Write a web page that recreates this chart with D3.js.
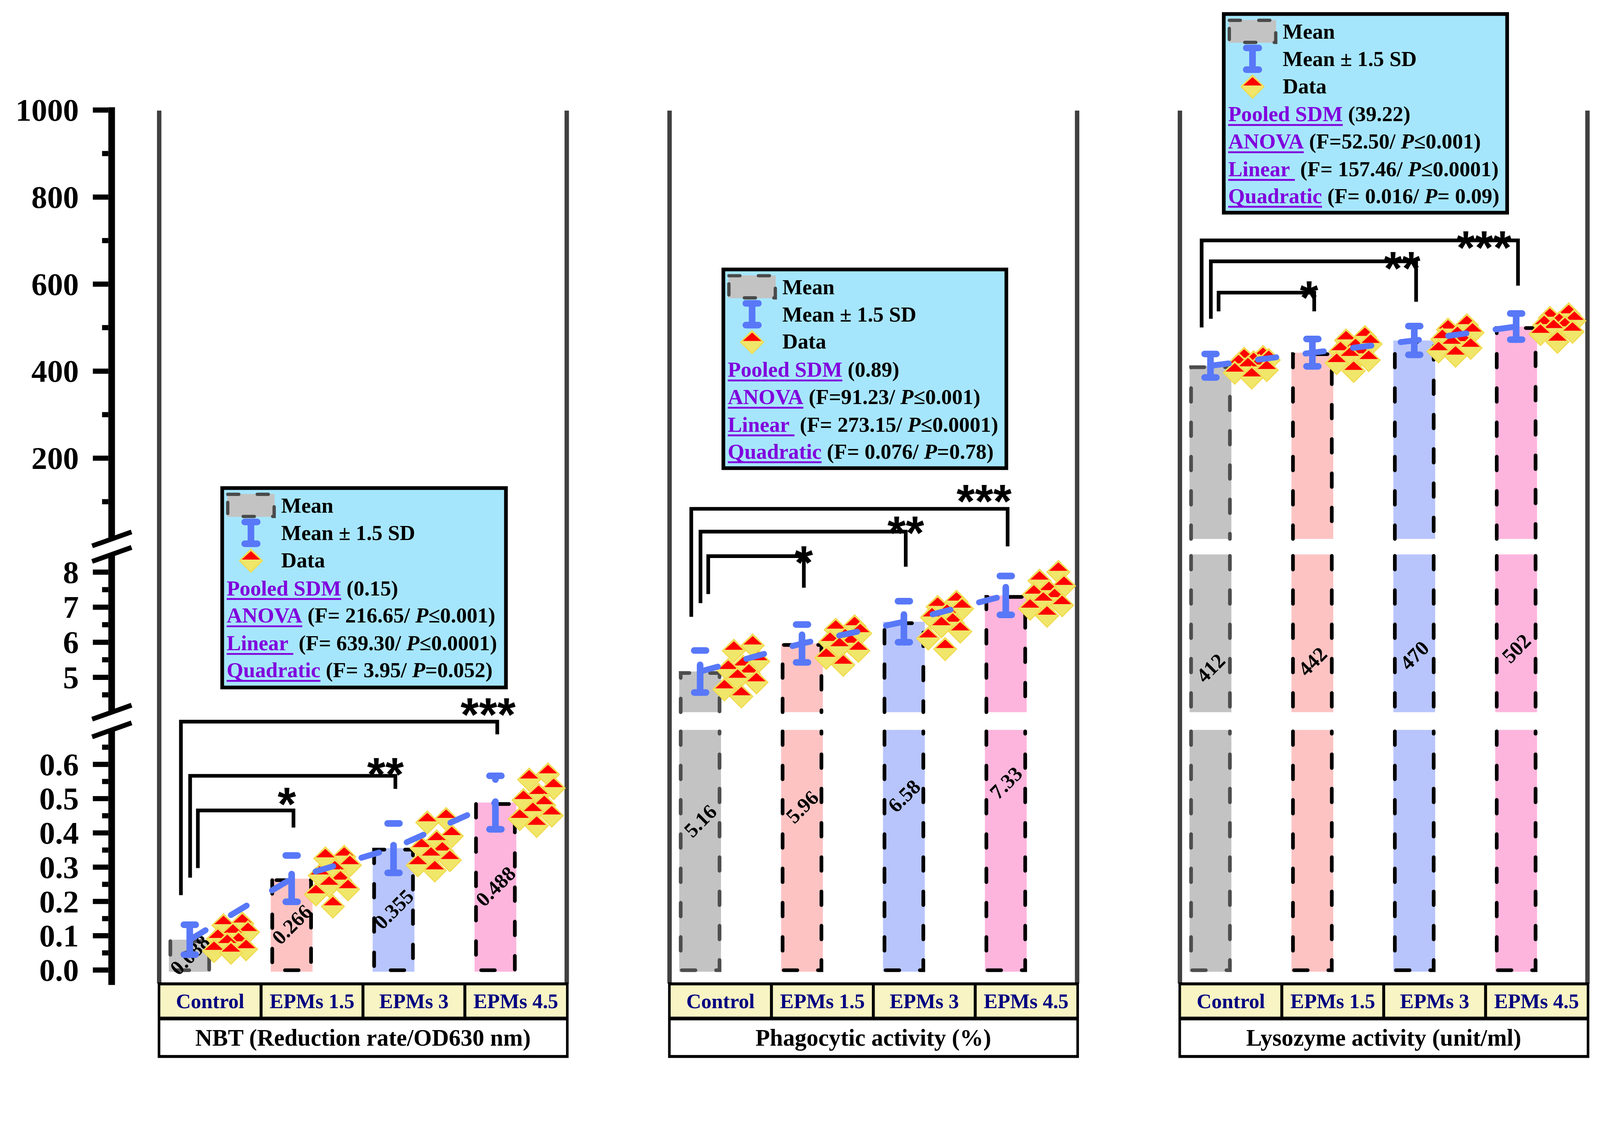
<!DOCTYPE html>
<html><head><meta charset="utf-8">
<script src="https://cdn.jsdelivr.net/npm/d3@7"></script>
<style>html,body{margin:0;padding:0;background:#fff;overflow:hidden;width:100%;height:100%} svg{display:block;width:100vw;height:100vh}</style>
</head><body>
<svg id="chart" viewBox="0 0 4342 2902" preserveAspectRatio="xMidYMin meet" xmlns="http://www.w3.org/2000/svg"></svg>
<script>
// ---------------- DATA ----------------
const categories = ["Control", "EPMs 1.5", "EPMs 3", "EPMs 4.5"];

// Y-axis ticks (three broken segments)
const lowerTicks = [0, 0.1, 0.2, 0.3, 0.4, 0.5, 0.6];
const lowerMinor = [0.05, 0.15, 0.25, 0.35, 0.45, 0.55, 0.65];
const middleTicks = [5, 6, 7, 8];
const middleMinor = [4.5, 5.5, 6.5, 7.5];
const upperTicks = [200, 400, 600, 800, 1000];
const upperMinor = [100, 300, 500, 700, 900];

// NBT
const nbtMeans = [0.088, 0.266, 0.355, 0.488];
const nbtSD = [0.029, 0.045, 0.048, 0.052];
const nbtData = [
  [0.135, 0.13, 0.11, 0.105, 0.09, 0.08, 0.075, 0.06, 0.055, 0.05],
  [0.33, 0.325, 0.305, 0.29, 0.275, 0.26, 0.245, 0.235, 0.22, 0.185],
  [0.44, 0.43, 0.39, 0.375, 0.355, 0.345, 0.33, 0.32, 0.305, 0.29],
  [0.57, 0.555, 0.53, 0.51, 0.495, 0.48, 0.46, 0.45, 0.44, 0.42]
];
// Phagocytic activity
const phagoMeans = [5.16, 5.96, 6.58, 7.33];
const phagoSD = [0.40, 0.36, 0.39, 0.37];
const phagoData = [
  [5.9, 5.75, 5.45, 5.3, 5.2, 5.1, 4.95, 4.85, 4.65, 4.45],
  [6.45, 6.35, 6.25, 6.1, 6.0, 5.95, 5.85, 5.75, 5.55, 5.35],
  [7.15, 7.0, 6.95, 6.8, 6.7, 6.55, 6.45, 6.3, 6.1, 5.8],
  [8.0, 7.75, 7.6, 7.45, 7.35, 7.25, 7.15, 7.05, 6.95, 6.75]
];
// Lysozyme activity
const lysoMeans = [412, 442, 470, 502];
const lysoSD = [18, 21, 22, 20];
const lysoData = [
  [432, 428, 425, 420, 415, 412, 408, 402, 396, 385],
  [478, 470, 462, 452, 445, 438, 432, 425, 418, 400],
  [505, 495, 488, 480, 473, 466, 460, 453, 445, 435],
  [530, 522, 515, 510, 505, 500, 496, 490, 485, 467]
];

// significance brackets (values in each panel's own units)
const nbtBrackets = [
  {to: 1, yL: 0.297, yTop: 0.465, yR: 0.415, label: "*"},
  {to: 2, yL: 0.269, yTop: 0.566, yR: 0.528, label: "**"},
  {to: 3, yL: 0.218, yTop: 0.724, yR: 0.687, label: "***"}
];
const phagoBrackets = [
  {to: 1, yL: 7.37, yTop: 8.45, yR: 7.55, label: "*"},
  {to: 2, yL: 7.11, yTop: 9.15, yR: 8.15, label: "**"},
  {to: 3, yL: 6.72, yTop: 9.8, yR: 8.73, label: "***"}
];
const lysoBrackets = [
  {to: 1, yL: 537, yTop: 580, yR: 537, label: "*"},
  {to: 2, yL: 520, yTop: 652, yR: 559, label: "**"},
  {to: 3, yL: 500, yTop: 700, yR: 596, label: "***"}
];

// legend statistics text
const pooledText = ["(0.15)", "(0.89)", "(39.22)"];
const anovaText = ["(F= 216.65/ ", "(F=91.23/ ", "(F=52.50/ "];
const anovaP = ["\u22640.001)", "\u22640.001)", "\u22640.001)"];
const linearText = ["(F= 639.30/ ", "(F= 273.15/ ", "(F= 157.46/ "];
const linearP = ["\u22640.0001)", "\u22640.0001)", "\u22640.0001)"];
const quadText = ["(F= 3.95/ ", "(F= 0.076/ ", "(F= 0.016/ "];
const quadP = ["=0.052)", "=0.78)", "= 0.09)"];
const panelTitles = ["NBT (Reduction rate/OD630 nm)", "Phagocytic activity (%)", "Lysozyme activity (unit/ml)"];

// ---------------- LAYOUT / STYLE ----------------
const svg = d3.select("#chart");
const serif = "'Liberation Serif','Times New Roman',serif";
const sans = "'Liberation Sans',Arial,sans-serif";
const barFill = ["#C3C3C3", "#FDC3C3", "#B8C5FC", "#FDB5DD"];
const barStroke = ["#4D4D4D", "#000", "#000", "#000"];
const blue = "#5878F8";
const purple = "#8000DC";

const ySeg = [
  d3.scaleLinear().domain([0, 0.7]).range([2631, 1980]),
  d3.scaleLinear().domain([4, 8.5]).range([1932, 1504]),
  d3.scaleLinear().domain([14, 1000]).range([1462, 298])
];
const segBase = [0, 4, 14];
const axisX = 294;
const plotBottom = 2668;
const plotTop = 300;
const starSize = 128;

// ---------- Y axis ----------
const axG = svg.append("g");
const segDef = [
  {major: lowerTicks, minor: lowerMinor, fmt: d3.format(".1f"), ext: [1980, 2672]},
  {major: middleTicks, minor: middleMinor, fmt: d3.format("d"), ext: [1504, 1932]},
  {major: upperTicks, minor: upperMinor, fmt: d3.format("d"), ext: [291, 1462]}
];
segDef.forEach((d, k) => {
  const s = ySeg[k];
  const gMaj = axG.append("g").attr("transform", `translate(${axisX},0)`)
    .call(d3.axisLeft(s).tickValues(d.major).tickFormat(d.fmt).tickSize(42).tickPadding(38));
  gMaj.select(".domain").remove();
  gMaj.selectAll(".tick line").attr("stroke", "#000").attr("stroke-width", 14);
  gMaj.selectAll(".tick text").attr("font-family", serif).attr("font-weight", "bold")
    .attr("font-size", 86).attr("fill", "#000").attr("dy", "0.34em");
  const gMin = axG.append("g").attr("transform", `translate(${axisX},0)`)
    .call(d3.axisLeft(s).tickValues(d.minor).tickFormat("").tickSize(17));
  gMin.select(".domain").remove();
  gMin.selectAll(".tick line").attr("stroke", "#000").attr("stroke-width", 14);
  axG.append("rect").attr("x", axisX).attr("y", d.ext[0]).attr("width", 18)
    .attr("height", d.ext[1] - d.ext[0]).attr("fill", "#000");
});
// break marks
[ySeg[2].range()[0], ySeg[1].range()[1], ySeg[1].range()[0], ySeg[0].range()[1]].forEach(y => {
  axG.append("line").attr("x1", 250).attr("y1", y + 19).attr("x2", 357).attr("y2", y - 19)
    .attr("stroke", "#000").attr("stroke-width", 13);
});

// ---------- Panels ----------
const panels = [
  {left: 432, means: nbtMeans, sd: nbtSD, data: nbtData, seg: 0, fmt: d3.format(".3f"),
   brackets: nbtBrackets, labelOff: [[-18, -48], [-27, -34], [-25, -50]],
   legend: {x: 603, y: 1324, w: 770, h: 541}},
  {left: 1817, means: phagoMeans, sd: phagoSD, data: phagoData, seg: 1, fmt: d3.format(".2f"),
   brackets: phagoBrackets, labelOff: [[0, -13], [0, -27], [-64, -51]],
   legend: {x: 1963, y: 731, w: 768, h: 539}},
  {left: 3202, means: lysoMeans, sd: lysoSD, data: lysoData, seg: 2, fmt: d3.format("d"),
   brackets: lysoBrackets, labelOff: [[-14, -17], [-38, -11], [-92, -11]],
   legend: {x: 3321, y: 38, w: 769, h: 539}}
];
const panelW = 1106;
const jit = [0.8, 0.3, 0.95, 0.55, 0.15, 0.7, 0.4, 0.9, 0.05, 0.5];
const legOffsets = {1: 22, 2: 1, 3: -24};

function diamond(g, cx, cy) {
  g.append("path").attr("d", `M${cx},${cy - 31}L${cx + 31},${cy}L${cx},${cy + 31}L${cx - 31},${cy}Z`)
    .attr("fill", "#F0E66A").attr("stroke", "#F2DA4C").attr("stroke-width", 3);
  g.append("path").attr("d", `M${cx},${cy - 26}L${cx + 25},${cy - 3}L${cx - 25},${cy - 3}Z`)
    .attr("fill", "#FF0000");
}

panels.forEach((p, pi) => {
  const g = svg.append("g");
  const x = d3.scaleBand().domain(categories).range([p.left, p.left + panelW]).paddingInner(0).paddingOuter(0);
  const bw = x.bandwidth();
  const cx = c => x(c) + bw * 0.3;
  const barW = bw * 0.41;
  const ys = ySeg[p.seg];

  // frame vertical lines
  [p.left, p.left + panelW].forEach(xx => {
    g.append("line").attr("x1", xx).attr("x2", xx).attr("y1", plotTop).attr("y2", plotBottom)
      .attr("stroke", "#404040").attr("stroke-width", 12);
  });

  // bars (broken into segment pieces)
  categories.forEach((c, i) => {
    const m = p.means[i];
    const x0 = cx(c) - barW / 2, x1 = cx(c) + barW / 2;
    const L = x0 + 4, R = x1 - 4;
    for (let j = 0; j <= p.seg; j++) {
      const s = ySeg[j];
      const lo = s(j === 0 ? 0 : segBase[j]);
      const hi = j === p.seg ? s(m) : s(s.domain()[1]);
      const isBottom = j === 0, isTop = j === p.seg;
      const bottomPx = isBottom ? lo + 5 : lo;
      g.append("rect").attr("x", x0).attr("y", hi).attr("width", barW).attr("height", bottomPx - hi)
        .attr("fill", barFill[i]);
      let d;
      const t = hi + 4, b = isBottom ? lo + 1 : lo;
      if (isBottom && isTop) d = `M${L},${t}V${b}H${R}V${t}Z`;
      else if (isBottom) d = `M${L},${t}V${b}H${R}V${t}`;
      else if (isTop) d = `M${L},${b}V${t}H${R}V${b}`;
      else d = `M${L},${t}V${b}M${R},${t}V${b}`;
      g.append("path").attr("d", d).attr("fill", "none").attr("stroke", barStroke[i])
        .attr("stroke-width", 10).attr("stroke-dasharray", "37 56").attr("stroke-linecap", "round");
    }
    // value label
    const yMid = (ySeg[0](0) + ys(m)) / 2;
    g.append("text").attr("transform", `translate(${cx(c)},${yMid}) rotate(-45)`)
      .attr("text-anchor", "middle").attr("dy", "0.35em")
      .attr("font-family", serif).attr("font-weight", "bold").attr("font-size", 56)
      .attr("fill", "#000").text(p.fmt(m));
  });

  // significance brackets
  p.brackets.forEach((b, bi) => {
    const xl = cx(categories[0]) + legOffsets[b.to];
    const xr = cx(categories[b.to]) + 5;
    g.append("path").attr("d", `M${xl},${ys(b.yL)}V${ys(b.yTop)}H${xr}V${ys(b.yR)}`)
      .attr("fill", "none").attr("stroke", "#000").attr("stroke-width", 10);
    const off = p.labelOff[bi];
    g.append("text").attr("x", xr + off[0]).attr("y", ys(b.yTop) + off[1] + 0.58 * starSize)
      .attr("text-anchor", "middle").attr("font-family", sans).attr("font-weight", "bold")
      .attr("font-size", starSize).attr("fill", "#000").text(b.label);
  });

  // data points
  categories.forEach((c, i) => {
    p.data[i].forEach((v, k) => {
      diamond(g, x(c) + bw * (0.52 + 0.37 * jit[k % jit.length]), ys(v));
    });
  });

  // error bars (mean ± 1.5 SD)
  categories.forEach((c, i) => {
    const xc = cx(c);
    const yLo = ys(p.means[i] - 1.5 * p.sd[i]), yHi = ys(p.means[i] + 1.5 * p.sd[i]);
    g.append("path").attr("d", `M${xc},${yLo}V${yHi}`).attr("stroke", blue).attr("stroke-width", 18)
      .attr("stroke-linecap", "round").attr("stroke-dasharray", "75 60").attr("fill", "none");
    [yLo, yHi].forEach(yy => g.append("line").attr("x1", xc - 16).attr("x2", xc + 16)
      .attr("y1", yy).attr("y2", yy).attr("stroke", blue).attr("stroke-width", 18)
      .attr("stroke-linecap", "round"));
  });

  // dashed trend line through means
  const line = d3.line().x((d, i) => cx(categories[i])).y(d => ys(d));
  g.append("path").attr("d", line(p.means)).attr("fill", "none").attr("stroke", blue)
    .attr("stroke-width", 16).attr("stroke-linecap", "round").attr("stroke-dasharray", "50 80");

  // category band + title
  const bandTop = 2665, rowSep = 2758, bottom = 2870;
  g.append("rect").attr("x", p.left - 4).attr("y", bandTop).attr("width", panelW + 9)
    .attr("height", bottom - bandTop).attr("fill", "#000");
  categories.forEach((c, i) => {
    const a = i === 0 ? x(c) + 3 : x(c) + 4;
    const e = i === categories.length - 1 ? x(c) + bw - 2 : x(c) + bw - 4;
    g.append("rect").attr("x", a).attr("y", bandTop + 8).attr("width", e - a)
      .attr("height", rowSep - bandTop - 8).attr("fill", "#F8F4C3");
    g.append("text").attr("x", x(c) + bw / 2).attr("y", 2735).attr("text-anchor", "middle")
      .attr("font-family", serif).attr("font-weight", "bold").attr("font-size", 56)
      .attr("fill", "#000080").text(c);
  });
  g.append("rect").attr("x", p.left + 3).attr("y", rowSep + 10).attr("width", panelW - 5)
    .attr("height", bottom - 8 - rowSep - 10).attr("fill", "#fff");
  g.append("text").attr("x", p.left + panelW / 2).attr("y", 2837).attr("text-anchor", "middle")
    .attr("font-family", serif).attr("font-weight", "bold").attr("font-size", 64)
    .attr("fill", "#000").text(panelTitles[pi]);
});

// ---------- Legends ----------
panels.forEach((p, pi) => {
  const L = p.legend, x0 = L.x, y0 = L.y;
  const g = svg.append("g");
  g.append("rect").attr("x", x0).attr("y", y0).attr("width", L.w).attr("height", L.h)
    .attr("fill", "#A6E6FC").attr("stroke", "#000").attr("stroke-width", 10);
  g.append("rect").attr("x", x0 + 14).attr("y", y0 + 16).attr("width", 128).attr("height", 62)
    .attr("fill", "#C3C3C3");
  g.append("rect").attr("x", x0 + 15).attr("y", y0 + 17).attr("width", 126).attr("height", 60)
    .attr("fill", "none").attr("stroke", "#4A4A4A").attr("stroke-width", 9)
    .attr("stroke-linecap", "round").attr("stroke-dasharray", "30 50");
  const ex = x0 + 78;
  g.append("line").attr("x1", ex).attr("x2", ex).attr("y1", y0 + 92).attr("y2", y0 + 151)
    .attr("stroke", blue).attr("stroke-width", 18);
  [y0 + 92, y0 + 151].forEach(yy => g.append("line").attr("x1", ex - 17).attr("x2", ex + 17)
    .attr("y1", yy).attr("y2", yy).attr("stroke", blue).attr("stroke-width", 18).attr("stroke-linecap", "round"));
  diamond(g, ex, y0 + 197);

  const T = (x, y, parts) => {
    const t = g.append("text").attr("x", x).attr("y", y).attr("font-family", serif)
      .attr("font-weight", "bold").attr("font-size", 58).attr("xml:space", "preserve")
      .style("white-space", "pre");
    parts.forEach(pt => {
      const ts = t.append("tspan").text(pt.t).attr("fill", pt.c || "#000");
      if (pt.i) ts.attr("font-style", "italic");
      if (pt.u) {
        const len = ts.node().getComputedTextLength();
        g.append("line").attr("x1", x).attr("x2", x + len).attr("y1", y + 10).attr("y2", y + 10)
          .attr("stroke", pt.c).attr("stroke-width", 5);
      }
    });
  };
  T(x0 + 160, y0 + 67, [{t: "Mean"}]);
  T(x0 + 160, y0 + 141, [{t: "Mean \u00B1 1.5 SD"}]);
  T(x0 + 160, y0 + 215, [{t: "Data"}]);
  T(x0 + 12, y0 + 291, [{t: "Pooled SDM", c: purple, u: true}, {t: " " + pooledText[pi]}]);
  T(x0 + 12, y0 + 365, [{t: "ANOVA", c: purple, u: true}, {t: " " + anovaText[pi]}, {t: "P", i: true}, {t: anovaP[pi]}]);
  T(x0 + 12, y0 + 440, [{t: "Linear ", c: purple, u: true}, {t: " " + linearText[pi]}, {t: "P", i: true}, {t: linearP[pi]}]);
  T(x0 + 12, y0 + 513, [{t: "Quadratic", c: purple, u: true}, {t: " " + quadText[pi]}, {t: "P", i: true}, {t: quadP[pi]}]);
});
</script>
</body></html>
